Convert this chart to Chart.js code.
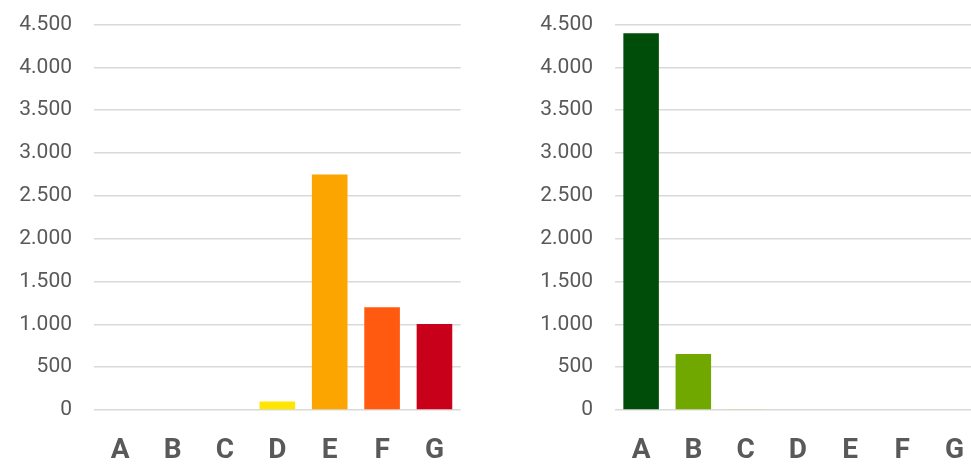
<!DOCTYPE html>
<html>
<head>
<meta charset="utf-8">
<script src="https://cdn.jsdelivr.net/npm/chart.js@4.4.1/dist/chart.umd.min.js"></script>
<style>
  html, body { margin: 0; padding: 0; background: #ffffff; overflow: hidden; width: 971px; height: 464px; }
  .box { position: absolute; top: -10px; height: 474px; }
  #left { left: 0; width: 468px; }
  #right { left: 521px; width: 467px; }
</style>
</head>
<body>
<div class="box" id="left"><canvas id="c1"></canvas></div>
<div class="box" id="right"><canvas id="c2"></canvas></div>
<script>
// Categories and values for the two panels
const categories = ['A', 'B', 'C', 'D', 'E', 'F', 'G'];
const leftValues = [0, 0, 0, 100, 2750, 1200, 1005];
const rightValues = [4400, 655, 12, 0, 0, 0, 0];
const yTicks = [0, 500, 1000, 1500, 2000, 2500, 3000, 3500, 4000, 4500];

const leftColors = ['#FFE600', '#FFE600', '#FFE600', '#FFE600', '#FCA500', '#FF5A0F', '#C8001A'];
const rightColors = ['#004D0A', '#70A800', '#C5E06A', '#C5E06A', '#C5E06A', '#C5E06A', '#C5E06A'];

function fmt(v) {
  return String(Math.round(v)).replace(/\B(?=(\d{3})+(?!\d))/g, '.');
}

function makeChart(id, values, colors) {
  return new Chart(document.getElementById(id), {
    type: 'bar',
    data: {
      labels: categories,
      datasets: [{
        data: values,
        backgroundColor: colors,
        borderWidth: 0,
        barPercentage: 0.68,
        categoryPercentage: 1.0
      }]
    },
    options: {
      responsive: true,
      maintainAspectRatio: false,
      animation: false,
      events: [],
      layout: { padding: { top: 14, right: 0, left: 0, bottom: 0 } },
      plugins: { legend: { display: false }, tooltip: { enabled: false } },
      scales: {
        x: {
          grid: { display: false, drawTicks: false },
          border: { display: false },
          ticks: {
            color: '#595959',
            font: { family: 'Roboto', size: 28, weight: 'bold' },
            padding: 24,
            maxRotation: 0
          },
          afterFit: s => { s.height = 54; }
        },
        y: {
          min: 0,
          max: yTicks[yTicks.length - 1],
          afterBuildTicks: s => { s.ticks = yTicks.map(v => ({ value: v })); },
          grid: { color: '#D9D9D9', lineWidth: 1.5, drawTicks: false },
          border: { display: false },
          ticks: {
            color: '#595959',
            font: { family: 'Roboto', size: 21 },
            padding: 22,
            callback: v => fmt(v)
          },
          afterFit: s => { s.width = 94; }
        }
      }
    }
  });
}

makeChart('c1', leftValues, leftColors);
makeChart('c2', rightValues, rightColors);
</script>
</body>
</html>
